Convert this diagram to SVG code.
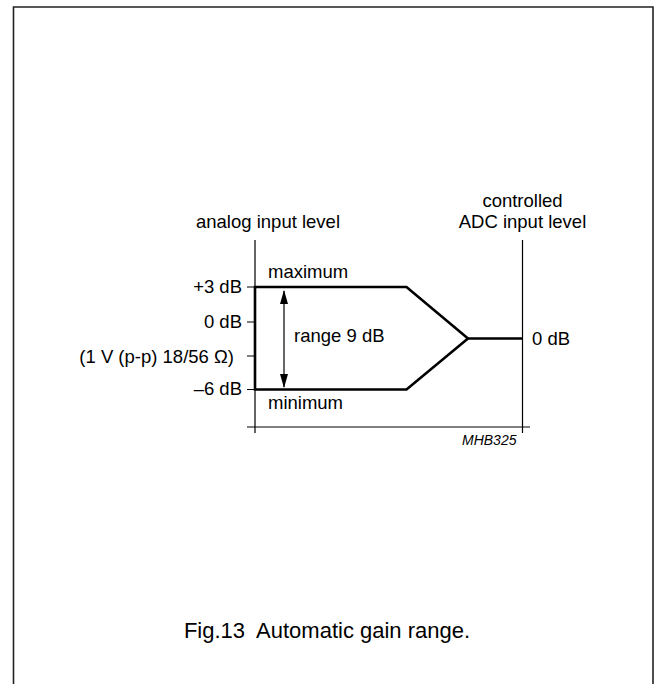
<svg xmlns="http://www.w3.org/2000/svg" width="655" height="684" viewBox="0 0 655 684">
<style>
text{font-family:"Liberation Sans",Arial,sans-serif;fill:#000;font-size:18.5px}
.thin{stroke:#000;stroke-width:1.2;fill:none}
.thick{stroke:#000;stroke-width:2.6;fill:none;stroke-linejoin:miter}
.end{text-anchor:end}
.mid{text-anchor:middle}
</style>
<defs>
<marker id="ah" viewBox="0 0 14 8" refX="13" refY="4" markerWidth="14" markerHeight="8" markerUnits="userSpaceOnUse" orient="auto-start-reverse">
<path d="M0,0 L14,4 L0,8 Z" fill="#000"/>
</marker>
</defs>
<path d="M13.5,684 V7 H653 V684" fill="none" stroke="#222" stroke-width="1.6"/>
<g id="axes">
<path class="thin" d="M255,240 V433 M522.5,240 V433 M247,427 H530 M247,287 H255 M247,322 H255 M247,356 H255 M247,389.5 H255"/>
</g>
<g id="connectors">
<path class="thick" d="M255,287 H406.5 L468,338.5 L406.5,389.5 H255 Z"/>
<path class="thick" d="M468,338.5 H522.5"/>
<line x1="284" y1="338" x2="284" y2="291" class="thin" marker-end="url(#ah)"/>
<line x1="284" y1="338" x2="284" y2="387" class="thin" marker-end="url(#ah)"/>
</g>
<g id="left-axis-labels">
<text x="196" y="228">analog input level</text>
<text x="242" y="293" class="end">+3 dB</text>
<text x="242" y="328" class="end">0 dB</text>
<text x="234" y="363" class="end">(1 V (p-p) 18/56 Ω)</text>
<text x="242" y="395" class="end">–6 dB</text>
</g>
<g id="right-axis-labels">
<text x="522.5" y="207" class="mid">controlled</text>
<text x="522.5" y="228" class="mid">ADC input level</text>
<text x="532" y="345">0 dB</text>
</g>
<g id="curve-labels">
<text x="268" y="278">maximum</text>
<text x="268" y="409">minimum</text>
<text x="294" y="342">range 9 dB</text>
</g>
<text x="462" y="445" font-style="italic" style="font-size:14px">MHB325</text>
<text x="327" y="638" class="mid" style="font-size:22px">Fig.13&#160; Automatic gain range.</text>
</svg>
